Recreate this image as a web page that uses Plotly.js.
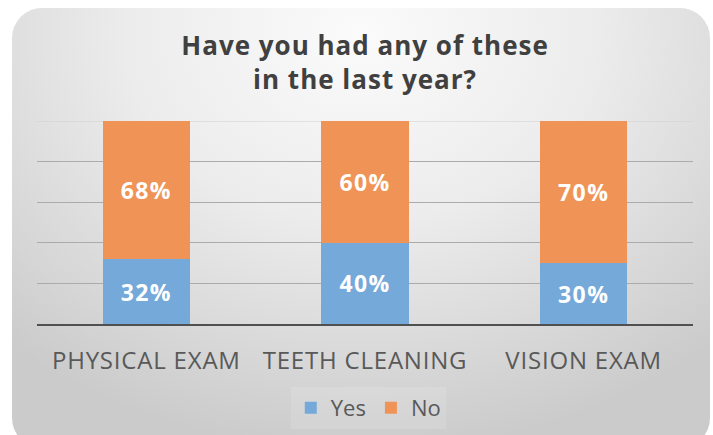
<!DOCTYPE html>
<html>
<head>
<meta charset="utf-8">
<script src="https://cdn.plot.ly/plotly-3.0.1.min.js"></script>
<style>
  html, body { margin: 0; padding: 0; background: #ffffff; width: 713px; height: 435px; overflow: hidden; }
  #bg {
    position: absolute; left: 12px; top: 8px; width: 698px; height: 440px;
    border-radius: 30px;
    background: radial-gradient(ellipse 75% 95% at 50% 6%, #fbfbfb 0%, #ececec 45%, #d8d8d8 78%, #cbcbcb 100%);
  }
  #chart { position: absolute; left: 0; top: 0; width: 713px; height: 435px; }
  .gtitle { letter-spacing: 1px; }
  .xtick text { letter-spacing: 0.8px; }
  .bartext { letter-spacing: 1.4px; }
</style>
</head>
<body>
<div id="bg"></div>
<div id="chart"></div>
<script>
const categories = ["PHYSICAL EXAM", "TEETH CLEANING", "VISION EXAM"];
const yesValues = [32, 40, 30];
const noValues = [68, 60, 70];
const seriesNames = ["Yes", "No"];

const font = "Open Sans, Noto Sans, sans-serif";

const traces = [
  {
    type: "bar", name: seriesNames[0], x: categories, y: yesValues,
    marker: { color: "#74a9d9" },
    text: yesValues.map(v => v + "%"), textposition: "inside", insidetextanchor: "middle",
    textfont: { color: "#ffffff", size: 23, family: font, weight: 700 },
    hoverinfo: "skip"
  },
  {
    type: "bar", name: seriesNames[1], x: categories, y: noValues,
    marker: { color: "#ef9456" },
    text: noValues.map(v => v + "%"), textposition: "inside", insidetextanchor: "middle",
    textfont: { color: "#ffffff", size: 23, family: font, weight: 700 },
    hoverinfo: "skip"
  }
];

const layout = {
  width: 713, height: 435,
  paper_bgcolor: "rgba(0,0,0,0)", plot_bgcolor: "rgba(0,0,0,0)",
  margin: { l: 37, r: 20, t: 121, b: 111, autoexpand: false },
  barmode: "stack", bargap: 0.6,
  title: {
    text: "Have you had any of these<br>in the last year?",
    x: 0.512, xanchor: "center", yref: "container", y: 1 - 55 / 435, yanchor: "middle",
    font: { family: font, size: 26, color: "#404040", weight: 700 }
  },
  xaxis: {
    showgrid: false, showline: true, linecolor: "#505050", linewidth: 2,
    ticks: "", ticklabelstandoff: 14,
    tickfont: { family: font, size: 24, color: "#595959" }
  },
  yaxis: {
    range: [0, 100], dtick: 20, showticklabels: false, zeroline: false,
    showgrid: true, gridcolor: "#ababab", gridwidth: 1, showline: false
  },
  shapes: [
    { type: "line", xref: "paper", x0: 0, x1: 1, yref: "y", y0: 100, y1: 100,
      line: { color: "#d0d0d0", width: 1 }, layer: "below" }
  ],
  showlegend: true,
  legend: {
    orientation: "h", x: 0.505, xanchor: "center",
    yref: "container", y: 1 - 408 / 435, yanchor: "middle",
    bgcolor: "rgba(255,255,255,0.12)",
    font: { family: font, size: 22, color: "#595959" },
    itemwidth: 30, traceorder: "normal"
  }
};

Plotly.newPlot("chart", traces, layout, { staticPlot: true, displayModeBar: false });
</script>
</body>
</html>
